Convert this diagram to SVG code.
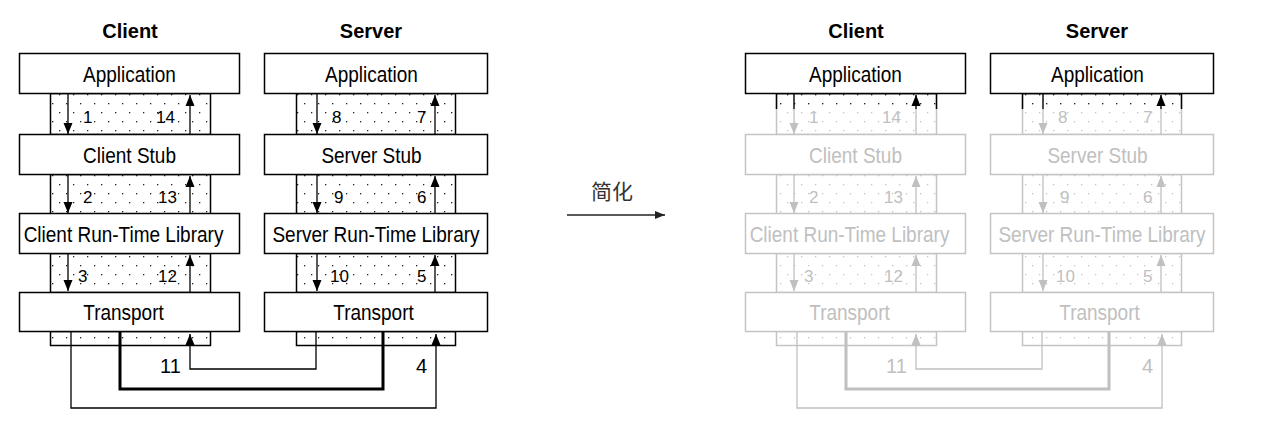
<svg xmlns="http://www.w3.org/2000/svg" width="1264" height="428" viewBox="0 0 1264 428">
<style>
.box{fill:#fff;stroke:#000;stroke-width:1.5}
.boxg{fill:#fff;stroke:#c4c4c4;stroke-width:1.5}
.band{fill:url(#dk);stroke:#000;stroke-width:1.5}
.bandg{fill:url(#dg);stroke:#c4c4c4;stroke-width:1.5}
.lbl{font-family:"Liberation Sans",Arial,sans-serif;font-size:19px;text-anchor:middle;fill:#000}
.lblg{font-family:"Liberation Sans",Arial,sans-serif;font-size:19px;text-anchor:middle;fill:#c0c0c0}
.ttl{font-family:"Liberation Sans",Arial,sans-serif;font-size:20px;font-weight:bold;text-anchor:middle;fill:#000}
.num{font-family:"Liberation Sans",Arial,sans-serif;font-size:17px;fill:#000}
.numg{font-family:"Liberation Sans",Arial,sans-serif;font-size:17px;fill:#c0c0c0}
.big{font-family:"Liberation Sans",Arial,sans-serif;font-size:20px;fill:#000}
.bigg{font-family:"Liberation Sans",Arial,sans-serif;font-size:20px;fill:#c0c0c0}
.ar{fill:none;stroke:#000;stroke-width:1.3;marker-end:url(#ah)}
.arg{fill:none;stroke:#c0c0c0;stroke-width:1.3;marker-end:url(#ahg)}
.thk{fill:none;stroke:#000;stroke-width:3}
.thkg{fill:none;stroke:#c0c0c0;stroke-width:3}
</style>
<defs>
<pattern id="dk" width="14" height="18" patternUnits="userSpaceOnUse">
<rect x="3" y="4" width="1.3" height="1.3" fill="#222"/>
<rect x="10" y="13" width="1.3" height="1.3" fill="#222"/>
</pattern>
<pattern id="dg" width="14" height="18" patternUnits="userSpaceOnUse">
<rect x="3" y="4" width="1.3" height="1.3" fill="#c4c4c4"/>
<rect x="10" y="13" width="1.3" height="1.3" fill="#c4c4c4"/>
</pattern>
<marker id="ah" markerUnits="userSpaceOnUse" markerWidth="11" markerHeight="10" refX="11" refY="5" orient="auto">
<path d="M0,0.5 L11,5 L0,9.5 z" fill="#000"/>
</marker>
<marker id="ahg" markerUnits="userSpaceOnUse" markerWidth="11" markerHeight="10" refX="11" refY="5" orient="auto">
<path d="M0,0.5 L11,5 L0,9.5 z" fill="#c0c0c0"/>
</marker>
<marker id="ahm" markerUnits="userSpaceOnUse" markerWidth="10" markerHeight="10" refX="10" refY="4.5" orient="auto">
<path d="M0,0.5 L10,4.5 L0,8.5 z" fill="#222"/>
</marker>
<clipPath id="topclip"><rect x="0" y="94" width="1264" height="15"/></clipPath>
</defs>
<rect width="1264" height="428" fill="#fff"/>

<!-- ===== Left diagram ===== -->
<g id="L-client-title"><text class="ttl" x="130" y="38">Client</text></g>
<g id="L-server-title"><text class="ttl" x="371" y="38">Server</text></g>

<g id="L-client-bands">
<rect class="band" x="50.5" y="93.5" width="160" height="41"/>
<rect class="band" x="50.5" y="174.5" width="160" height="40"/>
<rect class="band" x="50.5" y="253.5" width="160" height="39"/>
<rect class="band" x="50.5" y="331.5" width="160" height="14"/>
<text class="num" x="83" y="123">1</text><text class="num" x="156" y="123">14</text>
<text class="num" x="83" y="203">2</text><text class="num" x="158" y="203">13</text>
<text class="num" x="78" y="282">3</text><text class="num" x="158" y="282">12</text>
</g>
<g id="L-server-bands">
<rect class="band" x="296.5" y="93.5" width="159" height="41"/>
<rect class="band" x="296.5" y="174.5" width="159" height="40"/>
<rect class="band" x="296.5" y="253.5" width="159" height="39"/>
<rect class="band" x="296.5" y="331.5" width="159" height="14"/>
<text class="num" x="332" y="123">8</text><text class="num" x="417" y="123">7</text>
<text class="num" x="334" y="203">9</text><text class="num" x="417" y="203">6</text>
<text class="num" x="330" y="282">10</text><text class="num" x="417" y="282">5</text>
</g>

<g id="L-client-application"><rect class="box" x="19.5" y="53.5" width="220" height="40"/><text class="lbl" transform="translate(129.5,82) scale(1,1.2)">Application</text></g>
<g id="L-client-stub"><rect class="box" x="19.5" y="134.5" width="220" height="40"/><text class="lbl" transform="translate(129.5,163) scale(1,1.2)">Client Stub</text></g>
<g id="L-client-rtl"><rect class="box" x="19.5" y="213.5" width="220" height="40"/><text class="lbl" transform="translate(123.5,242) scale(1,1.2)">Client Run-Time Library</text></g>
<g id="L-client-transport"><rect class="box" x="19.5" y="292.5" width="220" height="39"/><text class="lbl" transform="translate(123.5,320) scale(1,1.2)">Transport</text></g>

<g id="L-server-application"><rect class="box" x="264.5" y="53.5" width="223" height="40"/><text class="lbl" transform="translate(371.5,82) scale(1,1.2)">Application</text></g>
<g id="L-server-stub"><rect class="box" x="264.5" y="134.5" width="223" height="40"/><text class="lbl" transform="translate(371.5,163) scale(1,1.2)">Server Stub</text></g>
<g id="L-server-rtl"><rect class="box" x="264.5" y="213.5" width="223" height="40"/><text class="lbl" transform="translate(376,242) scale(1,1.2)">Server Run-Time Library</text></g>
<g id="L-server-transport"><rect class="box" x="264.5" y="292.5" width="223" height="39"/><text class="lbl" transform="translate(373.5,320) scale(1,1.2)">Transport</text></g>

<g id="L-connectors">
<path class="ar" d="M68,94 V134"/><path class="ar" d="M190,135 V95"/>
<path class="ar" d="M68,175 V213"/><path class="ar" d="M190,214 V176"/>
<path class="ar" d="M68,254 V291"/><path class="ar" d="M190,292 V255"/>
<path class="ar" d="M317,94 V134"/><path class="ar" d="M435,135 V95"/>
<path class="ar" d="M317,175 V213"/><path class="ar" d="M435,214 V176"/>
<path class="ar" d="M317,254 V291"/><path class="ar" d="M435,292 V255"/>
<path class="ar" d="M71,332 V408 H436 V334"/>
<path class="thk" d="M120,332 V389 H383 V332"/>
<path class="ar" d="M316,332 V369 H190 V334"/>
<text class="big" x="160" y="373">11</text>
<text class="big" x="416" y="373">4</text>
</g>

<!-- ===== Middle arrow ===== -->
<g id="simplify">
<text x="591" y="199" font-family="'Noto Sans CJK SC',sans-serif" font-size="21" fill="#333">简化</text>
<path d="M567,215 H665" fill="none" stroke="#222" stroke-width="1.5" marker-end="url(#ahm)"/>
</g>

<!-- ===== Right (simplified) diagram ===== -->
<g id="R-client-title"><text class="ttl" x="856" y="38">Client</text></g>
<g id="R-server-title"><text class="ttl" x="1097" y="38">Server</text></g>

<g id="R-client-bands">
<rect class="bandg" x="776.5" y="93.5" width="160" height="41"/>
<rect class="bandg" x="776.5" y="174.5" width="160" height="40"/>
<rect class="bandg" x="776.5" y="253.5" width="160" height="39"/>
<rect class="bandg" x="776.5" y="331.5" width="160" height="14"/>
<text class="numg" x="809" y="123">1</text><text class="numg" x="882" y="123">14</text>
<text class="numg" x="809" y="203">2</text><text class="numg" x="884" y="203">13</text>
<text class="numg" x="804" y="282">3</text><text class="numg" x="884" y="282">12</text>
</g>
<g id="R-server-bands">
<rect class="bandg" x="1022.5" y="93.5" width="159" height="41"/>
<rect class="bandg" x="1022.5" y="174.5" width="159" height="40"/>
<rect class="bandg" x="1022.5" y="253.5" width="159" height="39"/>
<rect class="bandg" x="1022.5" y="331.5" width="159" height="14"/>
<text class="numg" x="1058" y="123">8</text><text class="numg" x="1143" y="123">7</text>
<text class="numg" x="1060" y="203">9</text><text class="numg" x="1143" y="203">6</text>
<text class="numg" x="1056" y="282">10</text><text class="numg" x="1143" y="282">5</text>
</g>

<g id="R-client-stub"><rect class="boxg" x="745.5" y="134.5" width="220" height="40"/><text class="lblg" transform="translate(855.5,163) scale(1,1.2)">Client Stub</text></g>
<g id="R-client-rtl"><rect class="boxg" x="745.5" y="213.5" width="220" height="40"/><text class="lblg" transform="translate(849.5,242) scale(1,1.2)">Client Run-Time Library</text></g>
<g id="R-client-transport"><rect class="boxg" x="745.5" y="292.5" width="220" height="39"/><text class="lblg" transform="translate(849.5,320) scale(1,1.2)">Transport</text></g>
<g id="R-server-stub"><rect class="boxg" x="990.5" y="134.5" width="223" height="40"/><text class="lblg" transform="translate(1097.5,163) scale(1,1.2)">Server Stub</text></g>
<g id="R-server-rtl"><rect class="boxg" x="990.5" y="213.5" width="223" height="40"/><text class="lblg" transform="translate(1102,242) scale(1,1.2)">Server Run-Time Library</text></g>
<g id="R-server-transport"><rect class="boxg" x="990.5" y="292.5" width="223" height="39"/><text class="lblg" transform="translate(1099.5,320) scale(1,1.2)">Transport</text></g>

<g id="R-connectors">
<path class="arg" d="M794,94 V134"/><path class="arg" d="M916,135 V95"/>
<path class="arg" d="M794,175 V213"/><path class="arg" d="M916,214 V176"/>
<path class="arg" d="M794,254 V291"/><path class="arg" d="M916,292 V255"/>
<path class="arg" d="M1043,94 V134"/><path class="arg" d="M1161,135 V95"/>
<path class="arg" d="M1043,175 V213"/><path class="arg" d="M1161,214 V176"/>
<path class="arg" d="M1043,254 V291"/><path class="arg" d="M1161,292 V255"/>
<path class="arg" d="M797,332 V408 H1162 V334"/>
<path class="thkg" d="M846,332 V389 H1109 V332"/>
<path class="arg" d="M1042,332 V369 H916 V334"/>
<text class="bigg" x="886" y="373">11</text>
<text class="bigg" x="1142" y="373">4</text>
</g>

<!-- black highlight just below the application boxes -->
<g id="R-highlight" clip-path="url(#topclip)">
<rect class="band" x="776.5" y="93.5" width="160" height="41"/>
<rect class="band" x="1022.5" y="93.5" width="159" height="41"/>
<text class="num" x="809" y="123">1</text><text class="num" x="882" y="123">14</text>
<text class="num" x="1058" y="123">8</text><text class="num" x="1143" y="123">7</text>
<path class="ar" d="M794,94 V134"/><path class="ar" d="M916,135 V95"/>
<path class="ar" d="M1043,94 V134"/><path class="ar" d="M1161,135 V95"/>
</g>

<g id="R-client-application"><rect class="box" x="745.5" y="53.5" width="220" height="40"/><text class="lbl" transform="translate(855.5,82) scale(1,1.2)">Application</text></g>
<g id="R-server-application"><rect class="box" x="990.5" y="53.5" width="223" height="40"/><text class="lbl" transform="translate(1097.5,82) scale(1,1.2)">Application</text></g>
</svg>
